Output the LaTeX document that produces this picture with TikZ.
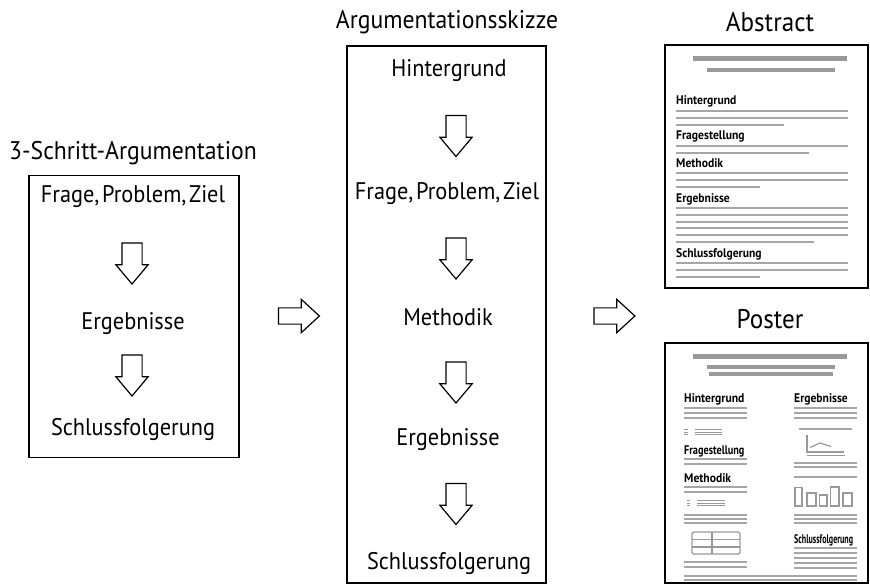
\documentclass[tikz,border=0pt]{standalone}
\usepackage{fontspec}
\setmainfont[FakeStretch=0.93, WordSpace=0.45]{PT Sans}
\usepackage{graphicx}
\usetikzlibrary{shapes.arrows}
\begin{document}
\begin{tikzpicture}[
            x=1pt, y=-1pt,
            frame/.style={draw, line width=1.3pt, inner sep=0pt},
            page/.style={draw, line width=1.7pt, inner sep=0pt},
            word/.style={font=\fontsize{24}{28}\selectfont, inner sep=0pt, anchor=base},
            title/.style={font=\fontsize{25.5}{30}\selectfont, inner sep=0pt, anchor=base},
            heading/.style={font=\fontsize{27}{32}\selectfont, inner sep=0pt, anchor=base},
            small/.style={font=\fontsize{12.5}{15}\selectfont\bfseries, inner sep=0pt, anchor=base west},
            down/.style={single arrow, draw, line width=1.2pt, shape border rotate=270,
                minimum height=41pt, single arrow head extend=6pt, inner sep=9.5pt,
                single arrow tip angle=80},
            right/.style={single arrow, draw, line width=1.2pt,
                minimum height=41pt, single arrow head extend=8.5pt, inner sep=7.5pt,
                single arrow tip angle=85},
            bar/.style={draw=black!40, line width=#1},
            bar/.default=5pt,
            txt/.style={draw=black!35, line width=2pt},
            ptxt/.style={draw=black!35, line width=1.4pt},
            thin/.style={draw=black!40, line width=1pt},
        ]
        \useasboundingbox (0, 0) rectangle (870, 585);

        % 3-Schritt-Argumentation
        \node[title] (t3) at (133, 160) {3-Schritt-Argumentation};
        \node[frame, minimum width=210pt, minimum height=282pt] (box3) at (134, 316.5) {};
        \node[word] (q3) at (133, 203) {Frage, Problem, Ziel};
        \node[down] (d31) at (132, 257.5) {};
        \node[word] (e3) at (133, 330) {Ergebnisse};
        \node[down] (d32) at (132, 369.5) {};
        \node[word] (s3) at (133, 435) {Schlussfolgerung};

        \node[right] (r1) at (294.5, 316) {};

        % Argumentationsskizze
        \node[title] (tsk) at (447, 29) {Argumentationsskizze};
        \node[frame, minimum width=199pt, minimum height=537pt] (boxsk) at (446.5, 314.5) {};
        \node[word] (hsk) at (449, 77) {Hintergrund};
        \node[down] (d1) at (456, 130) {};
        \node[word] (qsk) at (447, 200) {Frage, Problem, Ziel};
        \node[down] (d2) at (456, 252.5) {};
        \node[word] (msk) at (448, 326) {Methodik};
        \node[down] (d3) at (456, 376.5) {};
        \node[word] (esk) at (448, 445) {Ergebnisse};
        \node[down] (d4) at (456, 498) {};
        \node[word] (ssk) at (449, 569) {Schlussfolgerung};

        \node[right] (r2) at (610, 316) {};

        % Abstract
        \node[heading] (tab) at (770, 32) {Abstract};
        \node[page, minimum width=203pt, minimum height=243pt] (abs) at (766.5, 166.5) {};
        \draw[bar] (693, 59) -- (847, 59);
        \draw[bar=4pt] (707, 70) -- (835, 70);

        \node[small] (aH) at (676, 105) {Hintergrund};
        \draw[txt] (676, 111) -- (848, 111);
        \draw[txt] (676, 118) -- (848, 118);
        \draw[txt] (676, 125) -- (784, 125);
        \node[small] (aF) at (676, 140) {Fragestellung};
        \draw[txt] (676, 146) -- (848, 146);
        \draw[txt] (676, 153) -- (809, 153);
        \node[small] (aM) at (676, 168) {Methodik};
        \draw[txt] (676, 173) -- (848, 173);
        \draw[txt] (676, 180) -- (848, 180);
        \draw[txt] (676, 187) -- (760, 187);
        \node[small] (aE) at (676, 203) {Ergebnisse};
        \draw[txt] (676, 208) -- (848, 208);
        \draw[txt] (676, 215) -- (848, 215);
        \draw[txt] (676, 222) -- (848, 222);
        \draw[txt] (676, 228.5) -- (848, 228.5);
        \draw[txt] (676, 235.5) -- (848, 235.5);
        \draw[txt] (676, 242) -- (814, 242);
        \node[small] (aS) at (676, 258) {Schlussfolgerung};
        \draw[txt] (676, 263) -- (848, 263);
        \draw[txt] (676, 270) -- (848, 270);
        \draw[txt] (676, 277) -- (760, 277);

        % Poster
        \node[heading] (tpo) at (770, 328) {Poster};
        \node[page, minimum width=203pt, minimum height=240pt] (pos) at (766.5, 463) {};
        \draw[bar] (693, 356) -- (847, 356);
        \draw[bar=4pt] (707, 367) -- (835, 367);
        \draw[bar=4pt] (709, 374) -- (833, 374);

        % poster, left column
        \node[small] (pH) at (684, 402) {Hintergrund};
        \draw[ptxt] (684, 408) -- (747, 408);
        \draw[ptxt] (684, 413) -- (747, 413);
        \draw[ptxt] (684, 418) -- (747, 418);
        \draw[thin] (684, 429.5) -- (688, 429.5);
        \draw[thin] (684, 432) -- (688, 432);
        \draw[thin] (684, 434.5) -- (688, 434.5);
        \draw[thin] (695, 429.5) -- (722, 429.5);
        \draw[thin] (695, 432) -- (722, 432);
        \draw[thin] (695, 434.5) -- (722, 434.5);
        \node[small] (pF) at (684, 454) {\scalebox{0.88}[1]{Fragestellung}};
        \draw[ptxt] (684, 459) -- (747, 459);
        \draw[ptxt] (684, 464) -- (747, 464);
        \node[small] (pM) at (684, 482) {Methodik};
        \draw[ptxt] (684, 487) -- (747, 487);
        \draw[ptxt] (684, 492) -- (747, 492);
        \draw[thin] (687, 500.5) -- (690, 500.5);
        \draw[thin] (687, 503) -- (690, 503);
        \draw[thin] (687, 505.5) -- (690, 505.5);
        \draw[thin] (697, 500.5) -- (725, 500.5);
        \draw[thin] (697, 503) -- (725, 503);
        \draw[thin] (697, 505.5) -- (725, 505.5);
        \draw[ptxt] (684, 515) -- (747, 515);
        \draw[ptxt] (684, 519) -- (747, 519);
        \draw[ptxt] (684, 523) -- (747, 523);
        \draw[thin, line width=1.4pt, rounded corners=1.5pt] (692, 532) rectangle (740, 554);
        \draw[thin, line width=1.4pt] (712, 532) -- (712, 554);
        \draw[thin, line width=1.4pt] (692, 539.5) -- (740, 539.5);
        \draw[thin, line width=1.4pt] (692, 547) -- (740, 547);
        \draw[ptxt] (684, 562) -- (747, 562);
        \draw[ptxt] (684, 567) -- (747, 567);
        \draw[ptxt] (684, 576) -- (857, 576);
        \draw[ptxt] (684, 580) -- (857, 580);

        % poster, right column
        \node[small] (pE) at (794, 402) {Ergebnisse};
        \draw[ptxt] (794, 408) -- (857, 408);
        \draw[ptxt] (794, 413) -- (857, 413);
        \draw[ptxt] (794, 418) -- (857, 418);
        \draw[ptxt] (799, 429) -- (852, 429);
        \draw[thin, line width=1.4pt] (807, 435) -- (807, 452) -- (844, 452);
        \draw[thin, line width=1.4pt] (807, 455.5) -- (845, 455.5);
        \draw[thin, line width=1.2pt] (810, 447.5) -- (820, 443) -- (831, 446.5);
        \draw[ptxt] (794, 463) -- (857, 463);
        \draw[ptxt] (794, 467) -- (857, 467);
        \draw[ptxt] (794, 477) -- (857, 477);
        \draw[thin, line width=1.4pt] (795, 506) rectangle (802, 487.5);
        \draw[thin, line width=1.4pt] (807, 506) rectangle (816, 493);
        \draw[thin, line width=1.4pt] (819.5, 506) rectangle (827, 495);
        \draw[thin, line width=1.4pt] (830.5, 506) rectangle (839, 487);
        \draw[thin, line width=1.4pt] (843, 506) rectangle (852, 493);
        \draw[ptxt] (794, 515) -- (857, 515);
        \draw[ptxt] (794, 519) -- (857, 519);
        \draw[ptxt] (794, 523) -- (857, 523);
        \node[small] (pS) at (794, 543) {\scalebox{0.69}[1]{Schlussfolgerung}};
        \draw[ptxt] (794, 548) -- (857, 548);
        \draw[ptxt] (794, 553) -- (857, 553);
        \draw[ptxt] (794, 558) -- (857, 558);
        \draw[ptxt] (794, 563) -- (857, 563);
        \draw[ptxt] (794, 568) -- (857, 568);
    \end{tikzpicture}
\end{document}
